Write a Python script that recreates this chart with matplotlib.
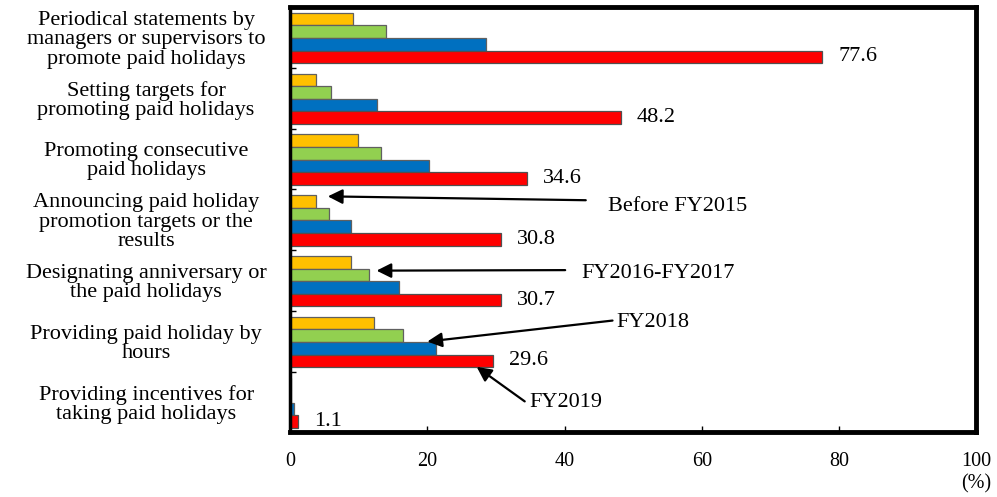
import matplotlib
matplotlib.use("Agg")
import matplotlib.pyplot as plt
import numpy as np

plt.rcParams["font.family"] = ["Liberation Serif", "DejaVu Serif"]

categories = [
    "Periodical statements by\nmanagers or supervisors to\npromote paid holidays",
    "Setting targets for\npromoting paid holidays",
    "Promoting consecutive\npaid holidays",
    "Announcing paid holiday\npromotion targets or the\nresults",
    "Designating anniversary or\nthe paid holidays",
    "Providing paid holiday by\nhours",
    "Providing incentives for\ntaking paid holidays",
]
series_names = ["Before FY2015", "FY2016-FY2017", "FY2018", "FY2019"]
before_fy2015 = [9.2, 3.7, 9.9, 3.7, 8.9, 12.3, 0.1]
fy2016_2017 = [14.0, 6.0, 13.3, 5.6, 11.5, 16.4, 0.2]
fy2018 = [28.5, 12.6, 20.3, 8.9, 15.9, 21.2, 0.5]
fy2019 = [77.6, 48.2, 34.6, 30.8, 30.7, 29.6, 1.1]
x_ticks = [0, 20, 40, 60, 80, 100]

series = [before_fy2015, fy2016_2017, fy2018, fy2019]
colors = ["#FFC000", "#92D050", "#0070C0", "#FF0000"]
edges = ["#606060", "#606060", "#606060", "#505050"]

fig = plt.figure(figsize=(9.97, 4.97), dpi=100)
ax = fig.add_axes([0.291, 0.13, 0.688, 0.856])

n = len(categories)
idx = np.arange(n)
h = 0.207
offsets = [(k - 1.5) * h + 0.012 for k in range(4)]

for k, (vals, c, ec) in enumerate(zip(series, colors, edges)):
    ax.barh(idx + offsets[k], vals, height=h, color=c, edgecolor=ec,
            linewidth=0.9, zorder=2)

# value labels on the FY2019 bars
for i, v in enumerate(fy2019):
    ax.annotate(f"{v:.1f}", xy=(v, i + offsets[3]), xytext=(11.5, 0),
                textcoords="offset points", ha="left", va="center",
                fontsize=16)

ax.set_xlim(0, 100)
ax.set_ylim(n - 0.5, -0.5)

ax.set_xticks(x_ticks)
ax.set_xticklabels([str(t) for t in x_ticks], fontsize=14.5)
ax.tick_params(axis="x", direction="in", length=4, width=1, pad=14)
ax.set_yticks(np.arange(n + 1) - 0.5)
ax.set_yticklabels([])
ax.tick_params(axis="y", direction="in", length=4, width=1)

for s in ["top", "right", "bottom"]:
    ax.spines[s].set_linewidth(3.5)
ax.spines["left"].set_linewidth(2.5)

# category labels
for i, lab in enumerate(categories):
    ax.text(-21.0, i + 0.04, lab, ha="center", va="center", fontsize=16,
            linespacing=1.02, transform=ax.transData, clip_on=False)

ax.text(1.0, -0.122, "(%)", transform=ax.transAxes, ha="center",
        va="center", fontsize=14.5)

# series callouts
arrow = dict(arrowstyle="-|>", color="black", lw=1.6, mutation_scale=22,
             shrinkA=0, shrinkB=0)
callouts = [
    # (series, group, tip dx, tip dy, tail x, tail y, text x, text y)
    (0, 3, 1.8, -0.085, 43.1, 2.68, 46.3, 2.79),
    (1, 4, 1.1, -0.07, 40.1, 3.83, 42.5, 3.88),
    (2, 5, -1.2, -0.11, 47.0, 4.66, 47.6, 4.70),
    (3, 5, -2.4, 0.1, 34.2, 5.99, 34.9, 6.0),
]
for k, g, dx, dy, tx, ty, lx, ly in callouts:
    tip = (series[k][g] + dx, g + offsets[k] + dy)
    ax.annotate("", xy=tip, xytext=(tx, ty), arrowprops=arrow, zorder=4)
    ax.text(lx, ly, series_names[k], ha="left", va="center", fontsize=16)

fig.savefig("out.png", dpi=100)
